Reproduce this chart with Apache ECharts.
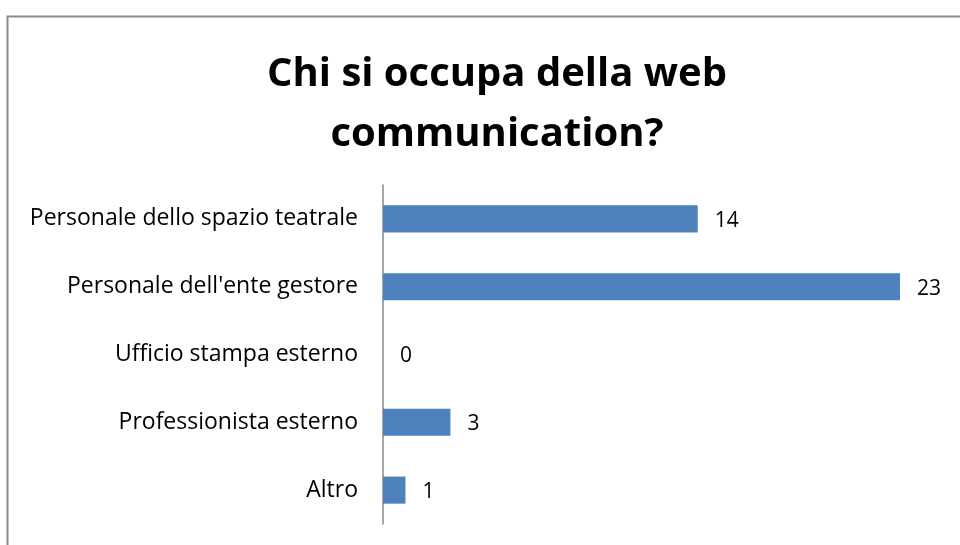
<!DOCTYPE html>
<html>
<head>
<meta charset="utf-8">
<script src="https://cdn.jsdelivr.net/npm/echarts@6/dist/echarts.min.js"></script>
<style>html,body{margin:0;padding:0;background:#fff;}#c{width:960px;height:545px;}</style>
</head>
<body>
<div id="c"></div>
<script>
const categories = ["Personale dello spazio teatrale", "Personale dell'ente gestore", "Ufficio stampa esterno", "Professionista esterno", "Altro"];
const values = [14, 23, 0, 3, 1];
const titleText = "Chi si occupa della web\ncommunication?";

const chart = echarts.init(document.getElementById('c'), null, {renderer: 'canvas'});
chart.setOption({
  animation: false,
  backgroundColor: '#ffffff',
  graphic: [{
    type: 'rect', left: 5, top: 14, shape: {width: 1000, height: 600},
    style: {fill: 'none', stroke: '#8c8c8c', lineWidth: 2}, silent: true
  }],
  title: {
    text: titleText, left: 492, top: 40, textAlign: 'center',
    textStyle: {fontFamily: 'Open Sans', fontWeight: 'bold', fontSize: 40, color: '#000', lineHeight: 60}
  },
  grid: {left: 383, right: 60, top: 185, bottom: 21, containLabel: false},
  xAxis: {type: 'value', min: 0, max: 23, show: false},
  yAxis: {
    type: 'category', data: categories, inverse: true,
    axisLine: {show: true, lineStyle: {color: '#888', width: 1.5}},
    axisTick: {show: false},
    axisLabel: {fontFamily: 'Open Sans', fontSize: 23, color: '#000', margin: 25}
  },
  series: [{
    type: 'bar', data: values, barCategoryGap: '60%',
    itemStyle: {color: '#4f81bd'},
    label: {show: true, position: 'right', distance: 17, fontFamily: 'Open Sans', fontSize: 21, color: '#000', offset: [0, 2]}
  }]
});
</script>
</body>
</html>
